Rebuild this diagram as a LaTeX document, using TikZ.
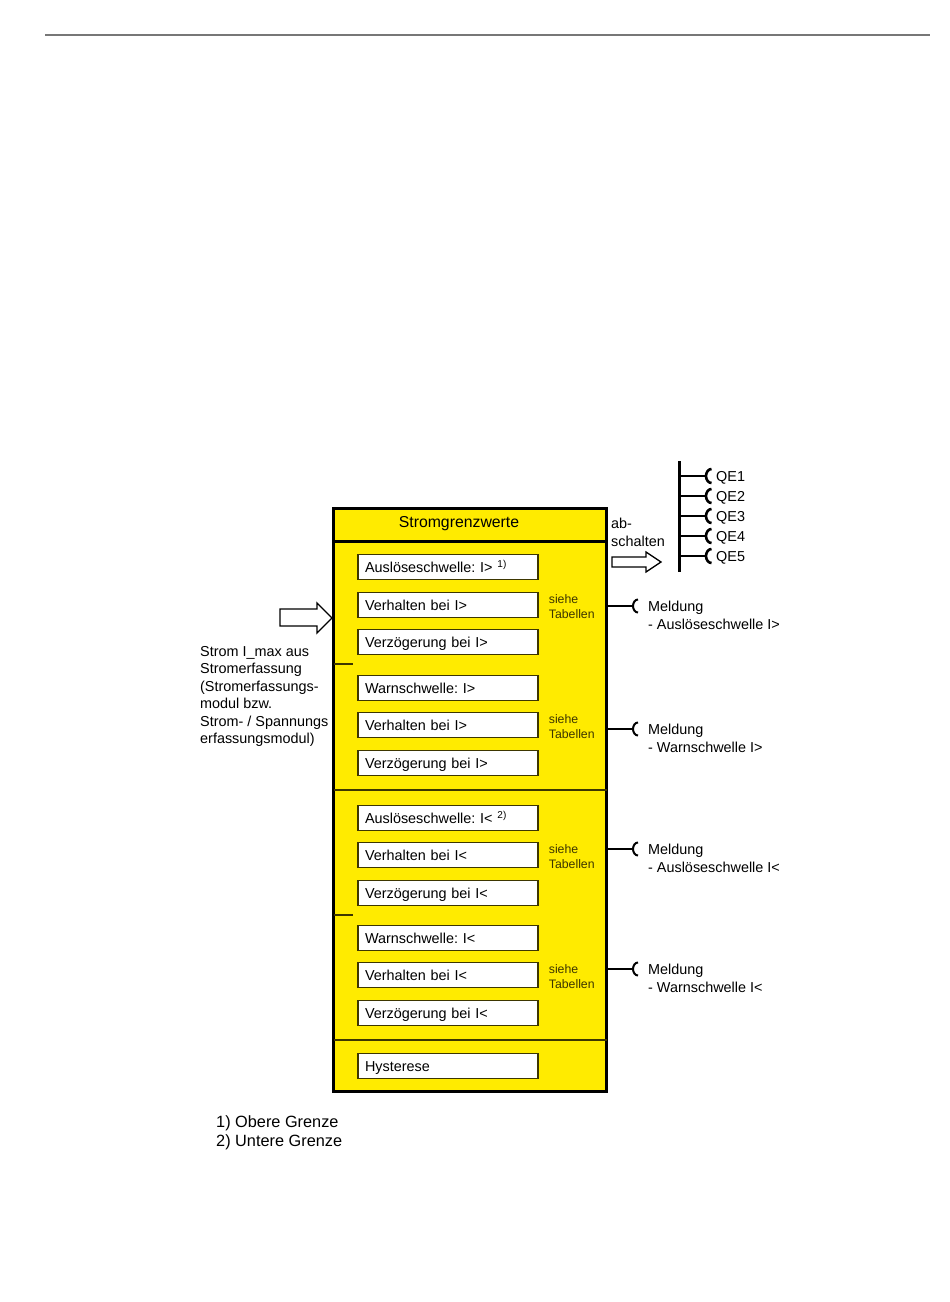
\documentclass[tikz,border=0pt]{standalone}
\usepackage{fontspec}
\setmainfont{Liberation Sans}
\usetikzlibrary{positioning,calc}
\definecolor{panelfill}{HTML}{FFEB00}
\definecolor{panelline}{HTML}{3D3600}
\definecolor{rulegray}{HTML}{777777}
\frenchspacing

\begin{document}
\begin{tikzpicture}[x=1pt,y=1pt,
  font=\fontsize{14.4}{17.4}\selectfont,
  parambox/.style={draw=panelline, line width=1.3pt, fill=white, minimum width=180pt, minimum height=25pt,
    text width=166pt, text height=11.5pt, text depth=0pt, inner sep=0pt, align=left},
  seetab/.style={font=\fontsize{12.3}{14.5}\selectfont, text=panelline, align=left, inner sep=0pt},
  plaintext/.style={align=left, inner sep=0pt},
  sigline/.style={line width=1.4pt},
  hollowarrow/.style={draw, line width=1.3pt, fill=white}]
\useasboundingbox (0,0) rectangle (950,-1302);
\draw[rulegray, line width=2pt] (45,-35) -- (930,-35);

% source text left of the block
\node[plaintext, anchor=west] (source) at (200,-696.5) {Strom I\_max aus\\Stromerfassung\\(Stromerfassungs-\\modul bzw.\\Strom- / Spannungs\\erfassungsmodul)};

% yellow block
\node[draw, line width=3pt, fill=panelfill, minimum width=273pt, minimum height=583pt, inner sep=0pt] (panel) at (470,-800) {};
\draw[line width=2.5pt] (333.5,-541.5) -- (606.5,-541.5);
\draw[panelline, line width=1.2pt] (333.5,-790) -- (606.5,-790);
\draw[panelline, line width=1.2pt] (333.5,-1040) -- (606.5,-1040);
\draw[panelline, line width=1.2pt] (333.5,-664) -- (353,-664);
\draw[panelline, line width=1.2pt] (333.5,-915) -- (353,-915);
\node[font=\fontsize{15.8}{18}\selectfont] (title) at (459,-524) {Stromgrenzwerte};

\node[parambox] (ausA) at (448,-567) {Auslöseschwelle: I> \textsuperscript{1)}};
\node[parambox] (verhA) at (448,-605) {Verhalten bei I>};
\node[parambox] (verzA) at (448,-642) {Verzögerung bei I>};
\node[parambox] (warnB) at (448,-688) {Warnschwelle: I>};
\node[parambox] (verhB) at (448,-725) {Verhalten bei I>};
\node[parambox] (verzB) at (448,-763) {Verzögerung bei I>};
\node[parambox] (ausC) at (448,-818) {Auslöseschwelle: I< \textsuperscript{2)}};
\node[parambox] (verhC) at (448,-855) {Verhalten bei I<};
\node[parambox] (verzC) at (448,-893) {Verzögerung bei I<};
\node[parambox] (warnD) at (448,-938) {Warnschwelle: I<};
\node[parambox] (verhD) at (448,-975) {Verhalten bei I<};
\node[parambox] (verzD) at (448,-1013) {Verzögerung bei I<};
\node[parambox] (hyst) at (448,-1066) {Hysterese};

\foreach \nm in {A,B,C,D}
  \node[seetab, right=10pt of verh\nm, yshift=-1.5pt] (see\nm) {siehe\\Tabellen};

% messages on the right
\foreach \nm/\yy/\txt in {A/606/Auslöseschwelle I>, B/729/Warnschwelle I>, C/849/Auslöseschwelle I<, D/969/Warnschwelle I<} {
  \coordinate (pin\nm) at (633,-\yy);
  \node[plaintext, anchor=north west, font=\fontsize{14.4}{18}\selectfont] (msg\nm) at ([xshift=15pt,yshift=5.5pt]pin\nm) {Meldung\\- \txt};
  \draw[sigline] (panel.east |- pin\nm) -- (pin\nm);
  \draw[line width=2pt] ([xshift=5pt,yshift=6.5pt]pin\nm) arc[start angle=90,end angle=270,x radius=5pt,y radius=6.5pt];
}

% input and output arrows
\draw[hollowarrow] (280,-609) -- (317,-609) -- (317,-603) -- (332,-618) -- (317,-633) -- (317,-626) -- (280,-626) -- cycle;
\node[plaintext, anchor=west] (abschalten) at (611,-532) {ab-\\[0.6pt]schalten};
\draw[hollowarrow] (612,-557) -- (646,-557) -- (646,-552) -- (661,-562) -- (646,-572) -- (646,-567) -- (612,-567) -- cycle;

% switching devices
\coordinate (busTop) at (679,-461);
\coordinate (busBot) at (679,-572);
\draw[line width=3pt] (busTop) -- (busBot);
\foreach \n/\yy in {1/476,2/496,3/516,4/536,5/556} {
  \coordinate (plug\n) at (706,-\yy);
  \node[plaintext, anchor=west] (qe\n) at (716,-\yy-2) {QE\n};
  \draw[line width=2pt] (busTop |- plug\n) -- (plug\n);
  \draw[line width=2.6pt] ([xshift=5.5pt,yshift=7pt]plug\n) arc[start angle=90,end angle=270,x radius=5.5pt,y radius=7pt];
}

% footnotes
\node[plaintext, anchor=west, font=\fontsize{16.3}{19}\selectfont] (notes) at (216,-1132.5) {1) Obere Grenze\\2) Untere Grenze};
\end{tikzpicture}
\end{document}
